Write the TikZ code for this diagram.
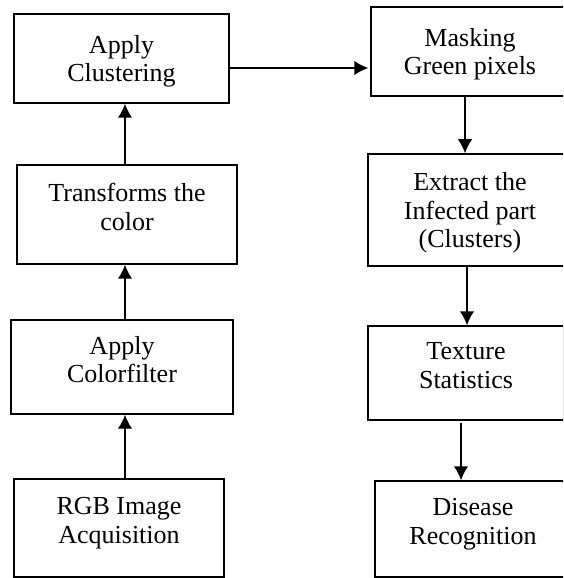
\documentclass[tikz,border=0pt]{standalone}
\usepackage{fontspec}
\setmainfont{Liberation Serif}
\usepackage{tikz}
\usetikzlibrary{shapes, arrows.meta}

\begin{document}
\begin{tikzpicture}[node distance = 2cm, auto]
      \tikzstyle{stage} = [
        rectangle,
        draw,
        line width = 0.85pt,
        align = center,
        font = \fontsize{14.8}{16.2}\selectfont,
        text depth = 0.3cm,
        inner sep = 0pt
      ]

      \tikzstyle{flow} = [
        line width = 0.85pt,
        -{Latex[length=0.28cm, width=0.29cm]}
      ]

      % right column runs past the right margin
      \useasboundingbox (0,0) rectangle (11.26,-11.56);
      \clip (0,0) rectangle (11.26,-11.56);

      \node[stage, minimum width=4.30cm, minimum height=1.78cm, text depth=0cm] (clustering) at (2.43,-1.17) {Apply\\Clustering};
      \node[stage, minimum width=4.40cm, minimum height=1.98cm] (transform) at (2.54,-4.29) {Transforms the\\color};
      \node[stage, minimum width=4.44cm, minimum height=1.88cm] (colorfilter) at (2.44,-7.34) {Apply\\Colorfilter};
      \node[stage, minimum width=4.20cm, minimum height=1.96cm] (rgb) at (2.38,-10.56) {RGB Image\\Acquisition};
      \node[stage, minimum width=3.96cm, minimum height=1.78cm, text depth=0cm] (masking) at (9.40,-1.03) {Masking\\Green pixels};
      \node[stage, minimum width=4.08cm, minimum height=2.24cm, text depth=0cm] (extract) at (9.40,-4.20) {Extract the\\Infected part\\(Clusters)};
      \node[stage, minimum width=3.92cm, minimum height=1.88cm] (texture) at (9.32,-7.46) {Texture\\Statistics};
      \node[stage, minimum width=3.92cm, minimum height=1.92cm] (disease) at (9.46,-10.58) {Disease\\Recognition};

      \draw[flow] ([xshift=0.06cm]colorfilter.south |- rgb.north) -- ([xshift=0.06cm]colorfilter.south);
      \draw[flow] ([xshift=0.06cm]colorfilter.north) -- ([xshift=0.06cm]colorfilter.north |- transform.south);
      \draw[flow] ([xshift=-0.04cm]transform.north) -- ([xshift=-0.04cm]transform.north |- clustering.south);
      \draw[flow] ([xshift=-0.04cm, yshift=-0.19cm]clustering.east) -- ([xshift=-0.04cm, yshift=-0.19cm]clustering.east -| masking.west);
      \draw[flow] ([xshift=-0.1cm]masking.south) -- ([xshift=-0.1cm]masking.south |- extract.north);
      \draw[flow] ([xshift=-0.06cm]extract.south) -- ([xshift=-0.06cm]extract.south |- texture.north);
      \draw[flow] ([xshift=-0.1cm, yshift=-0.04cm]texture.south) -- ([xshift=-0.1cm]texture.south |- disease.north);
    \end{tikzpicture}
\end{document}
